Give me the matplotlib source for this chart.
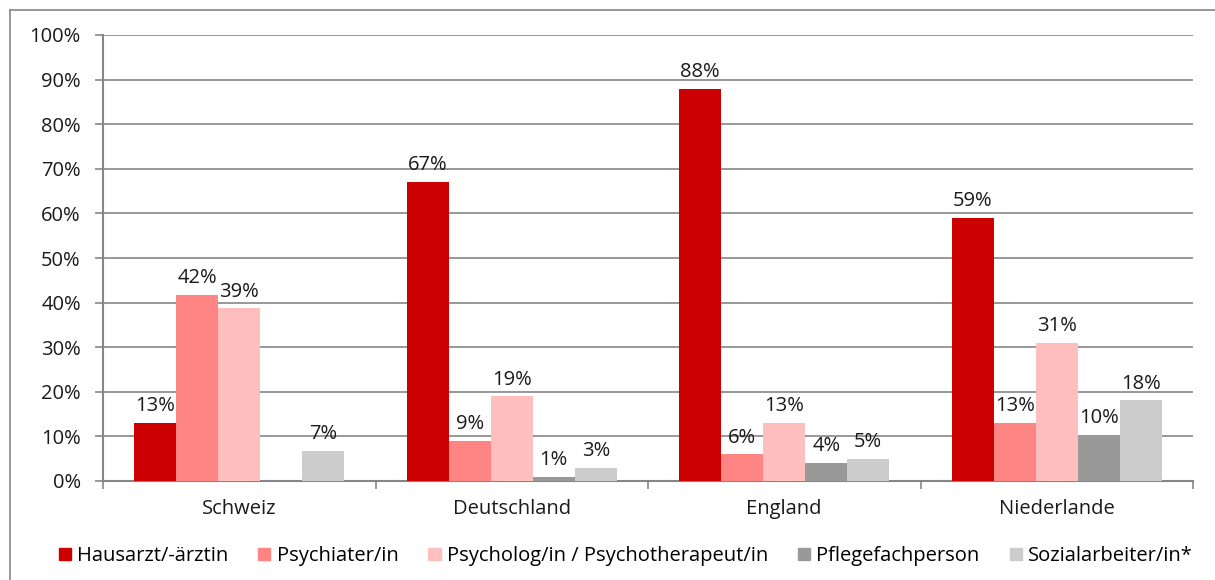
import numpy as np
import matplotlib
matplotlib.use("Agg")
import matplotlib.pyplot as plt
from matplotlib.lines import Line2D
from matplotlib.ticker import MultipleLocator, FuncFormatter, FixedLocator, NullFormatter

plt.rcParams['font.family'] = ['Open Sans', 'DejaVu Sans']

countries = ["Schweiz", "Deutschland", "England", "Niederlande"]
series = ["Hausarzt/-ärztin", "Psychiater/in", "Psycholog/in / Psychotherapeut/in",
          "Pflegefachperson", "Sozialarbeiter/in*"]
hausarzt = [13.0, 67.0, 88.0, 59.0]
psychiater = [41.8, 9.0, 6.0, 13.0]
psycholog = [38.7, 19.0, 13.0, 31.0]
pflege = [np.nan, 1.0, 4.0, 10.3]
sozial = [6.7, 3.0, 5.0, 18.1]
colors = ["#CC0000", "#FF8585", "#FFBFBF", "#999999", "#CCCCCC"]

data = [hausarzt, psychiater, psycholog, pflege, sozial]

FS = 14.5

fig = plt.figure(figsize=(12.15, 5.8), dpi=100)
ax = fig.add_axes([103/1215, 1-481/580, (1193-103)/1215, (481-35)/580])

grid_c = "#868686"
n = len(series)
bw = 42/272.5
x = np.arange(len(countries))
for i, (vals, col, name) in enumerate(zip(data, colors, series)):
    pos = x + (i - (n-1)/2) * bw
    v = np.array(vals, dtype=float)
    ax.bar(pos, np.nan_to_num(v), width=bw, color=col, label=name, zorder=3, linewidth=0)
    for p, val in zip(pos, v):
        if not np.isnan(val):
            ax.text(p, val + 1.5, f"{round(val):.0f}%", ha="center", va="bottom",
                    fontsize=FS, color="#1a1a1a", zorder=4)

ax.set_xlim(-0.5, len(countries) - 0.5)
ax.set_ylim(0, 100)
ax.yaxis.set_major_locator(MultipleLocator(10))
ax.yaxis.set_major_formatter(FuncFormatter(lambda v, p: f"{v:.0f}%"))
ax.grid(axis="y", color=grid_c, linewidth=1.2, zorder=0)
ax.set_axisbelow(True)
for s in ["top", "right"]:
    ax.spines[s].set_visible(False)
for s in ["left", "bottom"]:
    ax.spines[s].set_color(grid_c)
    ax.spines[s].set_linewidth(1.5)
ax.tick_params(axis="y", length=6, color=grid_c, width=1.2, labelsize=FS, pad=10, labelcolor="#1a1a1a")
ax.set_xticks(x)
ax.set_xticklabels(countries, fontsize=FS, color="#1a1a1a")
ax.tick_params(axis="x", length=0, pad=13)
ax.xaxis.set_minor_locator(FixedLocator(np.arange(-0.5, len(countries), 1.0)))
ax.xaxis.set_minor_formatter(NullFormatter())
ax.tick_params(axis="x", which="minor", length=6, color=grid_c, width=1.2)

handles = [plt.Rectangle((0, 0), 1, 1, color=c) for c in colors]
fig.legend(handles, series, loc="center", bbox_to_anchor=(0.515, 1-556/580), ncol=5,
           frameon=False, fontsize=FS, handlelength=0.6, handleheight=0.6,
           handletextpad=0.3, columnspacing=1.5)

fig.add_artist(Line2D([10/1215, 10/1215], [0, 1-10/580], color=grid_c, lw=1.2, transform=fig.transFigure))
fig.add_artist(Line2D([10/1215, 1], [1-10/580, 1-10/580], color=grid_c, lw=1.2, transform=fig.transFigure))

fig.savefig("out.png", dpi=100)
